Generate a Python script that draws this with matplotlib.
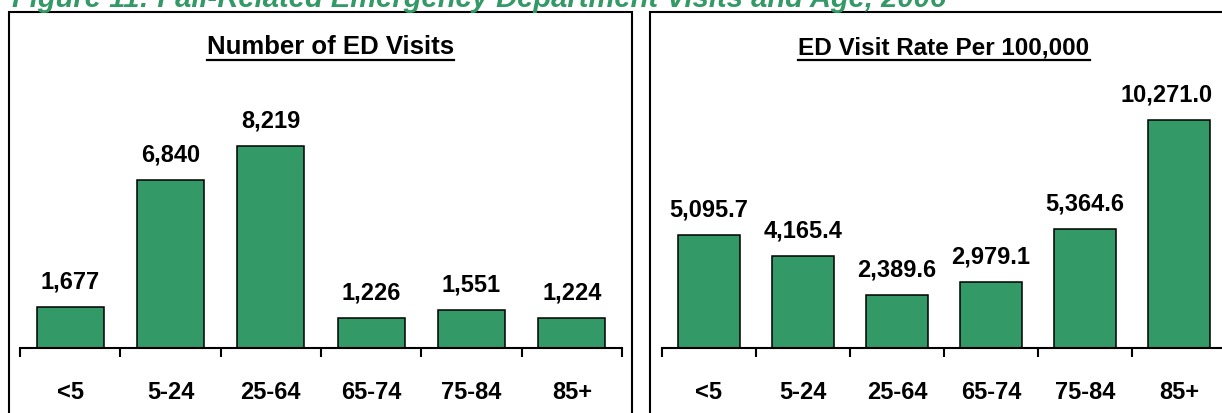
import matplotlib
matplotlib.use("Agg")
import matplotlib.pyplot as plt
from matplotlib.patches import Rectangle
from matplotlib.lines import Line2D

# ---------------- data ----------------
age_groups = ["<5", "5-24", "25-64", "65-74", "75-84", "85+"]
ed_visits = [1677, 6840, 8219, 1226, 1551, 1224]
ed_rate = [5095.7, 4165.4, 2389.6, 2979.1, 5364.6, 10271.0]
left_title = "Number of ED Visits"
right_title = "ED Visit Rate Per 100,000"
fig_title = "Figure 11: Fall-Related Emergency Department Visits and Age, 2006"

# ---------------- style ----------------
plt.rcParams['font.family'] = ['Liberation Sans', 'DejaVu Sans']
GREEN = "#339966"
W, H = 1222, 414
fig = plt.figure(figsize=(W / 100, H / 100), dpi=100)

def fx(px):
    return px / W

def fy(py):  # pixel from top -> figure fraction
    return 1 - py / H

# panel boxes (the right one runs past the image edge, as in the reference)
for x0, x1 in [(9, 632), (650, 1240)]:
    fig.patches.append(Rectangle((fx(x0), fy(430)), fx(x1 - x0), (430 - 12.5) / H,
                                 transform=fig.transFigure, fill=False,
                                 edgecolor="black", linewidth=1.5, zorder=0))

# figure title, mostly cut off at the top
fig.text(fx(12), fy(7), fig_title, color=GREEN, fontsize=21,
         fontweight="bold", fontstyle="italic", va="baseline", ha="left")

def panel(rect, values, fmt, ymax, title, title_cx, title_size):
    ax = fig.add_axes(rect)
    x = list(range(len(values)))
    ax.bar(x, values, width=0.67, color=GREEN, edgecolor="black", linewidth=1.1, zorder=2)
    ax.set_xlim(-0.5, len(values) - 0.5)
    ax.set_ylim(0, ymax)
    for s in ["top", "left", "right"]:
        ax.spines[s].set_visible(False)
    ax.spines["bottom"].set_linewidth(1.5)
    ax.set_yticks([])
    ax.set_xticks(x)
    ax.set_xticklabels(age_groups, fontsize=17, fontweight="bold")
    ax.tick_params(axis="x", which="major", length=0, pad=23)
    ax.set_xticks([i - 0.5 for i in range(len(values) + 1)], minor=True)
    ax.tick_params(axis="x", which="minor", length=6.5, width=1.5, direction="out")
    ax.patch.set_visible(False)
    labels = []
    for i, v in enumerate(values):
        t = ax.annotate(fmt.format(v), (i, v), xytext=(0, 14), textcoords="offset points",
                        ha="center", va="baseline", fontsize=17, fontweight="bold")
        labels.append(t)
    t = fig.text(fx(title_cx), fy(54), title, fontsize=title_size, fontweight="bold",
                 ha="center", va="baseline")
    return ax, labels, t

bottom = fy(349)
height = 269 / H
axL, labL, tL = panel([fx(20), bottom, fx(602), height], ed_visits, "{:,.0f}", 269 / 0.02458,
                      left_title, 330.5, 18.5)
axR, labR, tR = panel([fx(662), bottom, fx(564), height], ed_rate, "{:,.1f}", 269 / 0.0222,
                      right_title, 944, 17.5)
# the tallest label in the rate panel is nudged left to stay inside the frame
labR[-1].set_position((-9, 14))

# underline the panel titles
fig.canvas.draw()
r = fig.canvas.get_renderer()
for t in (tL, tR):
    bb = t.get_window_extent(renderer=r)
    y = fy(60.5)
    fig.add_artist(Line2D([bb.x0 / W, bb.x1 / W], [y, y], transform=fig.transFigure,
                          color="black", linewidth=1.6))

fig.savefig("out.png", dpi=100)
